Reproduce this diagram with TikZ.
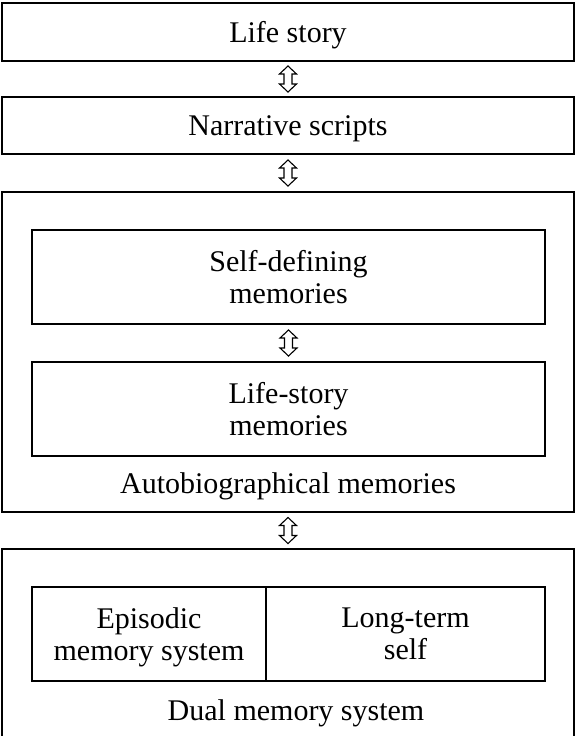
\documentclass[tikz,border=0pt]{standalone}
\usepackage{fontspec}
\setmainfont{Liberation Serif}
\usetikzlibrary{calc}
\begin{document}
\begin{tikzpicture}[x=1pt,y=-1pt,
  box/.style={draw, line width=2pt, rectangle, inner sep=0pt, align=center,
    font=\fontsize{30}{32}\selectfont, text depth=0pt},
  lbl/.style={inner sep=0pt, anchor=base, font=\fontsize{30}{32}\selectfont},
  updown/.pic={\draw[line width=1.1pt, line join=miter, fill=white]
    (0,-13) -- (8.5,-5) -- (4,-5) -- (4,5) -- (8.5,5) -- (0,13)
    -- (-8.5,5) -- (-4,5) -- (-4,-5) -- (-8.5,-5) -- cycle;}]
\useasboundingbox (0,0) rectangle (575,736);
\node[box, minimum width=572pt, minimum height=58pt] (life) at (288,32) {Life story};
\node[box, minimum width=572pt, minimum height=57pt] (narr) at (288,125.5) {Narrative scripts};
\node[box, minimum width=572pt, minimum height=320pt] (auto) at (288,352) {};
\node[box, minimum width=513pt, minimum height=94pt] (selfdef) at (288.5,277) {Self-defining\\memories};
\node[box, minimum width=513pt, minimum height=94pt] (lsmem) at (288.5,409) {Life-story\\memories};
\node[lbl] (autolbl) at (288,493) {Autobiographical memories};
\node[box, minimum width=572pt, minimum height=191pt] (dual) at (288,644.5) {};
\node[box, minimum width=234pt, minimum height=94pt] (epi) at (149,634) {Episodic\\memory system};
\node[box, minimum width=279pt, minimum height=94pt] (lts) at (405.5,634) {Long-term\\self};
\node[lbl] (duallbl) at (296,720) {Dual memory system};
\pic at ($(life.south)!0.5!(narr.north)$) {updown};
\pic at ($(narr.south)!0.5!(auto.north)$) {updown};
\pic at ($(selfdef.south)!0.5!(lsmem.north)$) {updown};
\pic at ($(auto.south)!0.5!(dual.north)$) {updown};
\end{tikzpicture}
\end{document}
